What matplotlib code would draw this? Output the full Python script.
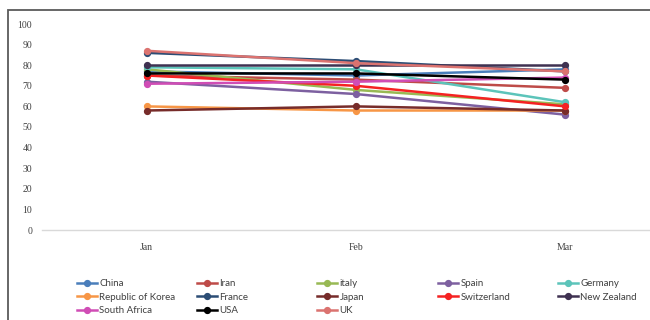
import matplotlib
matplotlib.use("Agg")
import matplotlib.pyplot as plt
from matplotlib.patches import Rectangle

months = ["Jan", "Feb", "Mar"]

countries = ["China", "Iran", "italy", "Spain", "Germany",
             "Republic of Korea", "France", "Japan", "Switzerland", "New Zealand",
             "South Africa", "USA", "UK"]

china = [77, 75, 78]
iran = [75, 73, 69]
italy = [78, 68, 61]
spain = [72, 66, 56]
germany = [79, 78, 62]
korea = [60, 58, 58]
france = [86, 82, 77]
japan = [58, 60, 58]
switzerland = [75, 70, 60]
new_zealand = [80, 80, 80]
south_africa = [71, 72, 74]
usa = [76, 76, 73]
uk = [87, 81, 77]

series = [china, iran, italy, spain, germany, korea, france, japan,
          switzerland, new_zealand, south_africa, usa, uk]

colors = ["#4A7EBB", "#BE4B48", "#98B954", "#7D60A0", "#5CC4BA",
          "#F79646", "#2C4D75", "#772C2A", "#F52222", "#3F3151",
          "#D04DB5", "#000000", "#DB7370"]

fig = plt.figure(figsize=(6.5, 3.2), dpi=100)
fig.patch.set_facecolor("white")

# outer chart frame (open to the right and bottom)
fig.patches.append(Rectangle((7.5 / 650, -0.2), 1.2, (320 - 9.5) / 320 + 0.2,
                             transform=fig.transFigure, fill=False,
                             edgecolor="#5a5a5a", linewidth=1.3))

ax = fig.add_axes([42 / 650, 90 / 320, 628 / 650, 206 / 320])
ax.set_facecolor("none")

x = list(range(len(months)))
lines = {}
for name, vals, c in zip(countries, series, colors):
    ln, = ax.plot(x, vals, color=c, linewidth=1.8, marker="o",
                  markersize=4.2, label=name, clip_on=False)
    lines[name] = ln

ax.set_xlim(-0.5, 2.5)
ax.set_ylim(0, 100)
ax.set_yticks(range(0, 101, 10))
ax.set_xticks(x)
ax.set_xticklabels(months)
for sp in ["top", "right", "left"]:
    ax.spines[sp].set_visible(False)
ax.spines["bottom"].set_color("#D9D9D9")
ax.spines["bottom"].set_linewidth(1.0)
ax.tick_params(axis="both", length=0, labelsize=7, colors="#404040")
ax.tick_params(axis="y", pad=7)
ax.tick_params(axis="x", pad=9)
for lbl in ax.get_xticklabels() + ax.get_yticklabels():
    lbl.set_family("Liberation Serif")

# legend laid out in five evenly spaced columns
columns = [["China", "Republic of Korea", "South Africa"],
           ["Iran", "France", "USA"],
           ["italy", "Japan", "UK"],
           ["Spain", "Switzerland"],
           ["Germany", "New Zealand"]]
col_x = [77, 197, 317, 438, 558]
for cx, names in zip(col_x, columns):
    leg = fig.legend([lines[n] for n in names], names,
                     loc="upper left",
                     bbox_to_anchor=(cx / 650, (320 - 279) / 320),
                     frameon=False, borderpad=0, borderaxespad=0,
                     handlelength=2.1, handletextpad=0.2,
                     labelspacing=0.48,
                     prop={"family": "Lato", "size": 7})
    for t in leg.get_texts():
        t.set_color("#404040")

fig.savefig("out.png", dpi=100)
